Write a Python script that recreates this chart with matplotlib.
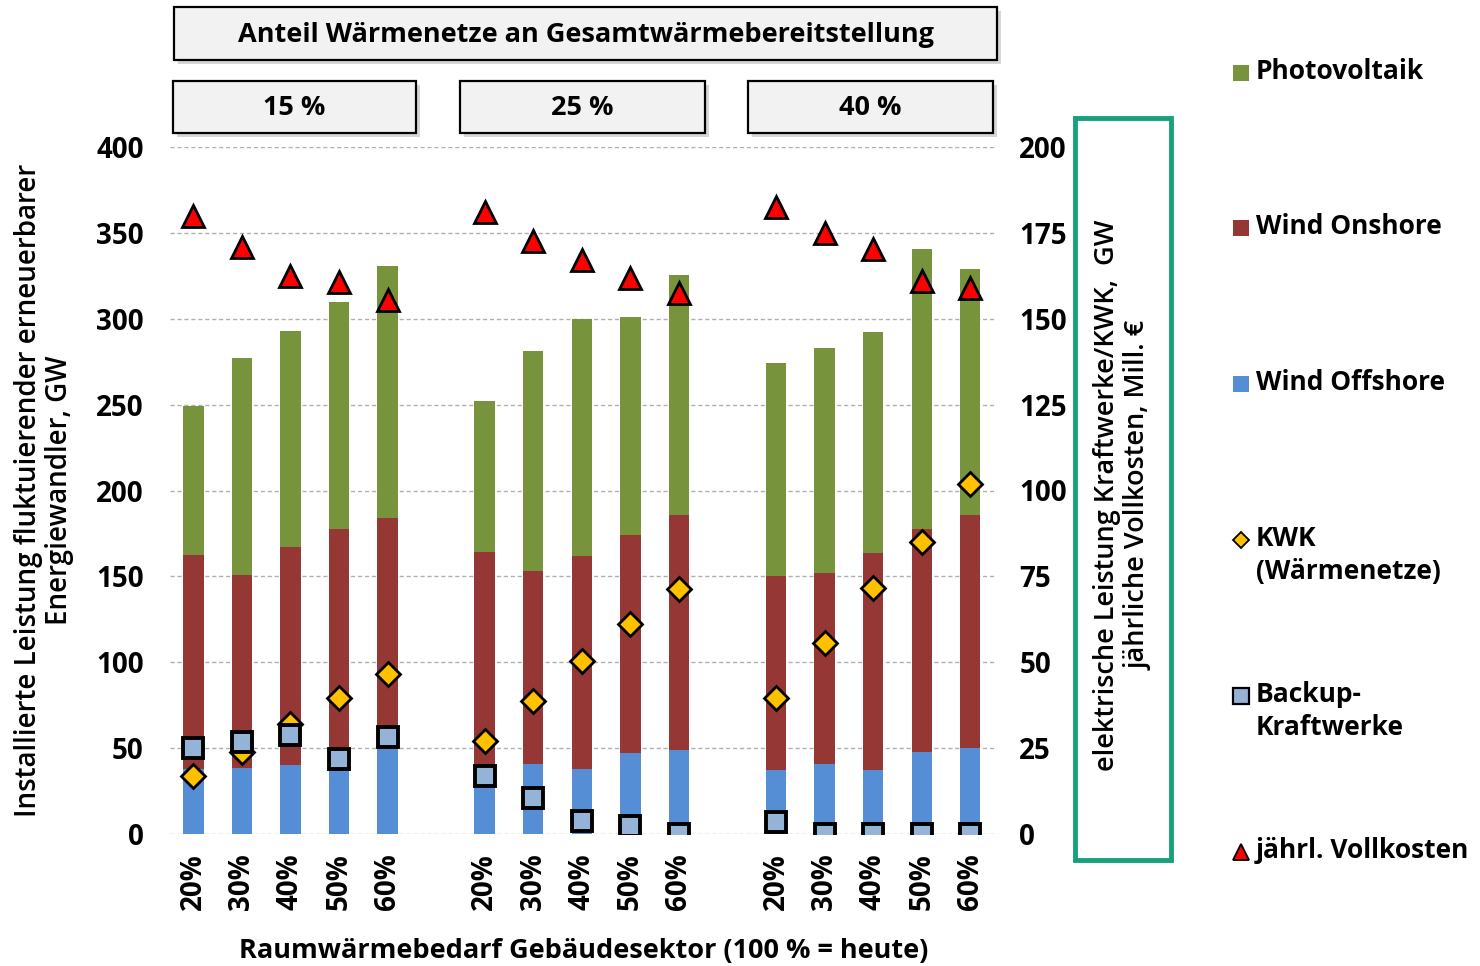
""" Installierte Leistung / Vollkosten nach Raumwaermebedarf """
import numpy as np
import matplotlib
matplotlib.use("Agg")
import matplotlib.pyplot as plt
from matplotlib.patches import Rectangle

plt.rcParams['font.family'] = ['Open Sans', 'DejaVu Sans']

# --- data ---------------------------------------------------------------
groups = ["15 %", "25 %", "40 %"]
demand = ["20%", "30%", "40%", "50%", "60%"]

# stacked bars (left axis, GW), group after group
wind_offshore = [38, 38.5, 40, 37, 51,
                 35, 41, 38, 47, 49,
                 37, 41, 37, 48, 50]
wind_onshore_top = [162.5, 151, 167, 177.5, 184,
                    164, 153, 162, 174, 186,
                    150, 152, 163.5, 177.5, 185.5]
pv_top = [249, 277, 293, 310, 331,
          252, 281.5, 300, 301, 325.5,
          274, 283, 292.5, 340.5, 329]

# markers (right axis: GW el. resp. Mill. EUR)
kwk = [17, 24, 32, 39.5, 46.5,
       27.2, 38.8, 50.5, 61.2, 71.2,
       39.7, 55.7, 71.5, 85, 101.8]
backup = [25, 26.7, 28.7, 21.9, 28.2,
          16.9, 10.6, 3.9, 2.4, 0,
          3.6, 0, 0, 0, 0]
vollkosten = [180, 171, 162.5, 160.8, 155.5,
              181, 172.6, 167, 162, 157.5,
              182.5, 175, 170.4, 161, 159]

wind_onshore = np.array(wind_onshore_top) - np.array(wind_offshore)
pv = np.array(pv_top) - np.array(wind_onshore_top)

c_pv = "#77933c"
c_on = "#953735"
c_off = "#558ed5"
c_kwk = "#ffc000"
c_bak = "#95b3d7"
c_tri = "#ff0000"

# x positions: 5 bars per group, one empty slot between groups
x = np.concatenate([np.arange(5) + 6 * g for g in range(len(groups))])

W, H = 1480, 966
fig = plt.figure(figsize=(W / 100, H / 100), dpi=100)
ax = fig.add_axes([170 / W, 1 - 834 / H, 827 / W, 687 / H])
ax2 = ax.twinx()

ax.bar(x, wind_offshore, width=0.42, color=c_off, zorder=2)
ax.bar(x, wind_onshore, width=0.42, bottom=wind_offshore, color=c_on, zorder=2)
ax.bar(x, pv, width=0.42, bottom=wind_onshore_top, color=c_pv, zorder=2)

ax2.plot(x, kwk, ls="none", marker="D", ms=12, mfc=c_kwk, mec="black", mew=2, zorder=3)
ax2.plot(x, backup, ls="none", marker="s", ms=14, mfc=c_bak, mec="black", mew=2.8, zorder=4)
ax2.plot(x, vollkosten, ls="none", marker="^", ms=16, mfc=c_tri, mec="black", mew=2, zorder=5)

ax.set_xlim(-0.48, 16.55)
ax.set_ylim(0, 400)
ax2.set_ylim(0, 200)
ax.set_yticks(np.arange(0, 401, 50))
ax2.set_yticks(np.arange(0, 201, 25))
ax.set_xticks(x)
ax.set_xticklabels(demand * len(groups), rotation=90, fontsize=20, fontweight="bold")
ax.tick_params(axis="x", length=0, pad=14)
ax.tick_params(axis="y", length=0, pad=19, labelsize=20)
ax2.tick_params(axis="y", length=0, pad=16, labelsize=20)
for lab in ax.get_yticklabels() + ax2.get_yticklabels():
    lab.set_fontweight("bold")
ax.grid(axis="y", color="#b0b0b0", ls=(0, (3, 2)), lw=1, zorder=0)
ax.set_axisbelow(True)
for a in (ax, ax2):
    for s in a.spines.values():
        s.set_visible(False)
ax.patch.set_visible(False)

ax.set_ylabel("Installierte Leistung fluktuierender erneuerbarer\nEnergiewandler, GW",
              fontsize=20, fontweight="semibold", labelpad=16, linespacing=1.1)
ax.set_xlabel("Raumwärmebedarf Gebäudesektor (100 % = heute)",
              fontsize=19.5, fontweight="bold", labelpad=20)

# overlay in pixel coordinates for boxes and legend
ov = fig.add_axes([0, 0, 1, 1], zorder=10)
ov.set_xlim(0, W)
ov.set_ylim(H, 0)
ov.axis("off")


def box(x0, x1, y0, y1, text):
    ov.add_patch(Rectangle((x0 + 4, y0 + 4), x1 - x0, y1 - y0, fc="#bcbcbc", ec="none", alpha=0.6))
    ov.add_patch(Rectangle((x0, y0), x1 - x0, y1 - y0, fc="#f2f2f2", ec="black", lw=1.6))
    ov.text((x0 + x1) / 2, (y0 + y1) / 2 + 1, text, ha="center", va="center",
            fontsize=19.5, fontweight="bold")


box(174, 997, 7, 60, "Anteil Wärmenetze an Gesamtwärmebereitstellung")
for (x0, x1), g in zip([(173, 416), (460, 705), (748, 993)], groups):
    box(x0, x1, 81, 133, g)

# right axis label in green frame
ov.add_patch(Rectangle((1075, 118), 96, 742, fc="none", ec="#17a07c", lw=3.5))
ov.text(1123, 495, "elektrische Leistung Kraftwerke/KWK,  GW\njährliche Vollkosten, Mill. €",
        rotation=90, ha="center", va="center", fontsize=19.5, fontweight="semibold",
        linespacing=1.15)

# legend
leg_y = [73, 228, 384, 540, 696, 852]
leg = [("s", c_pv, 0, "Photovoltaik", 11),
       ("s", c_on, 0, "Wind Onshore", 11),
       ("s", c_off, 0, "Wind Offshore", 11),
       ("D", c_kwk, 1.3, "KWK\n(Wärmenetze)", 8),
       ("s", c_bak, 1.6, "Backup-\nKraftwerke", 11),
       ("^", c_tri, 1.3, "jährl. Vollkosten", 12)]
for yy, (m, c, ew, lab, ms) in zip(leg_y, leg):
    ov.plot([1241], [yy], ls="none", marker=m, ms=ms, mfc=c, mec="black" if ew else c, mew=ew)
    ov.text(1256, yy - 15, lab, ha="left", va="top", fontsize=19, fontweight="bold",
            linespacing=1.3)

fig.savefig("out.png", dpi=100)
